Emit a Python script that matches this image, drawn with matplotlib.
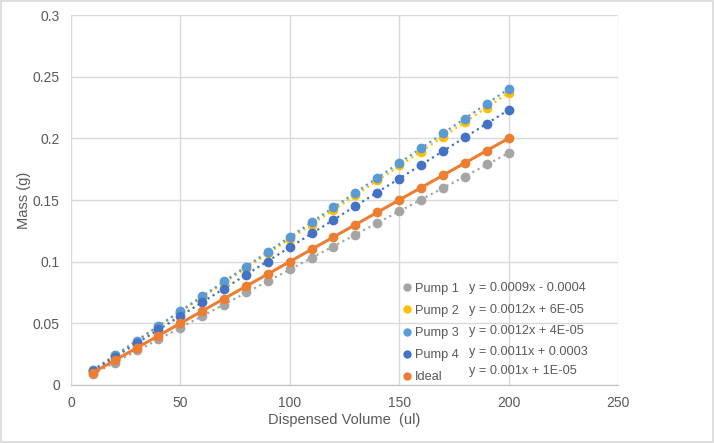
import numpy as np
import matplotlib.pyplot as plt
from matplotlib.lines import Line2D
from matplotlib.patches import Rectangle

plt.rcParams['font.family'] = ['Liberation Sans', 'DejaVu Sans']

volume = [10, 20, 30, 40, 50, 60, 70, 80, 90, 100,
          110, 120, 130, 140, 150, 160, 170, 180, 190, 200]

pump1 = [0.009, 0.018, 0.028, 0.037, 0.046, 0.056, 0.065, 0.075, 0.084, 0.094,
         0.103, 0.112, 0.122, 0.131, 0.141, 0.150, 0.160, 0.169, 0.179, 0.188]
pump2 = [0.012, 0.024, 0.035, 0.047, 0.059, 0.071, 0.083, 0.095, 0.107, 0.118,
         0.130, 0.142, 0.154, 0.166, 0.178, 0.189, 0.201, 0.213, 0.225, 0.237]
pump3 = [0.012, 0.024, 0.036, 0.048, 0.060, 0.072, 0.084, 0.096, 0.108, 0.120,
         0.132, 0.144, 0.156, 0.168, 0.180, 0.192, 0.204, 0.216, 0.228, 0.240]
pump4 = [0.011, 0.023, 0.034, 0.045, 0.056, 0.067, 0.078, 0.089, 0.100, 0.112,
         0.123, 0.134, 0.145, 0.156, 0.167, 0.178, 0.190, 0.201, 0.212, 0.223]
ideal = [0.010, 0.020, 0.030, 0.040, 0.050, 0.060, 0.070, 0.080, 0.090, 0.100,
         0.110, 0.120, 0.130, 0.140, 0.150, 0.160, 0.170, 0.180, 0.190, 0.200]

names = ['Pump 1', 'Pump 2', 'Pump 3', 'Pump 4', 'Ideal']
equations = ['y = 0.0009x - 0.0004', 'y = 0.0012x + 6E-05', 'y = 0.0012x + 4E-05',
             'y = 0.0011x + 0.0003', 'y = 0.001x + 1E-05']
colors = ['#A5A5A5', '#FFC000', '#5B9BD5', '#4472C4', '#ED7D31']
series = [pump1, pump2, pump3, pump4, ideal]

fig = plt.figure(figsize=(7.14, 4.43), dpi=100)
ax = fig.add_axes([0.0994, 0.131, 0.766, 0.835])

x = np.array(volume)
for i in range(len(series)):
    y = np.array(series[i])
    if names[i] == 'Ideal':
        ax.plot(x, y, '-', color=colors[i], lw=2.2, zorder=4)
    else:
        # dotted linear trendline like excel
        p = np.polyfit(x, y, 1)
        ax.plot(x, np.polyval(p, x), ':', color=colors[i], lw=1.6, zorder=2)
    ax.plot(x, y, 'o', color=colors[i], ms=6, mec=colors[i], zorder=3 + i * 0.1)

ax.set_xlim(0, 250)
ax.set_ylim(0, 0.3)
ax.set_xticks([0, 50, 100, 150, 200, 250])
ax.set_yticks([0, 0.05, 0.1, 0.15, 0.2, 0.25, 0.3])
ax.set_yticklabels(['0', '0.05', '0.1', '0.15', '0.2', '0.25', '0.3'])
ax.grid(True, color='#D9D9D9', lw=1)
ax.set_axisbelow(True)
for s in ['top', 'right', 'left']:
    ax.spines[s].set_visible(False)
ax.spines['bottom'].set_color('#BFBFBF')
ax.tick_params(length=0, colors='#595959', labelsize=10, pad=8)

ax.set_xlabel('Dispensed Volume  (ul)', color='#595959', fontsize=10.5, labelpad=2)
ax.set_ylabel('Mass (g)', color='#595959', fontsize=10.5, labelpad=1)

handles = [Line2D([], [], ls='none', marker='o', ms=5, color=c) for c in colors]
leg = ax.legend(handles, names, loc='upper left', bbox_to_anchor=(0.587, 0.308),
                frameon=False, handlelength=0.6, handletextpad=0.3,
                labelspacing=0.8, fontsize=9.2, labelcolor='#595959')

eq_y = [0.262, 0.203, 0.146, 0.089, 0.037]
for i in range(len(equations)):
    ax.text(0.7276, eq_y[i], equations[i], transform=ax.transAxes,
            fontsize=9.2, color='#595959', va='center')

fig.patches.append(Rectangle((0.002, 0.003), 0.996, 0.994, transform=fig.transFigure,
                             fill=False, edgecolor='#D9D9D9', lw=1.2))

fig.savefig('out.png', dpi=100)
